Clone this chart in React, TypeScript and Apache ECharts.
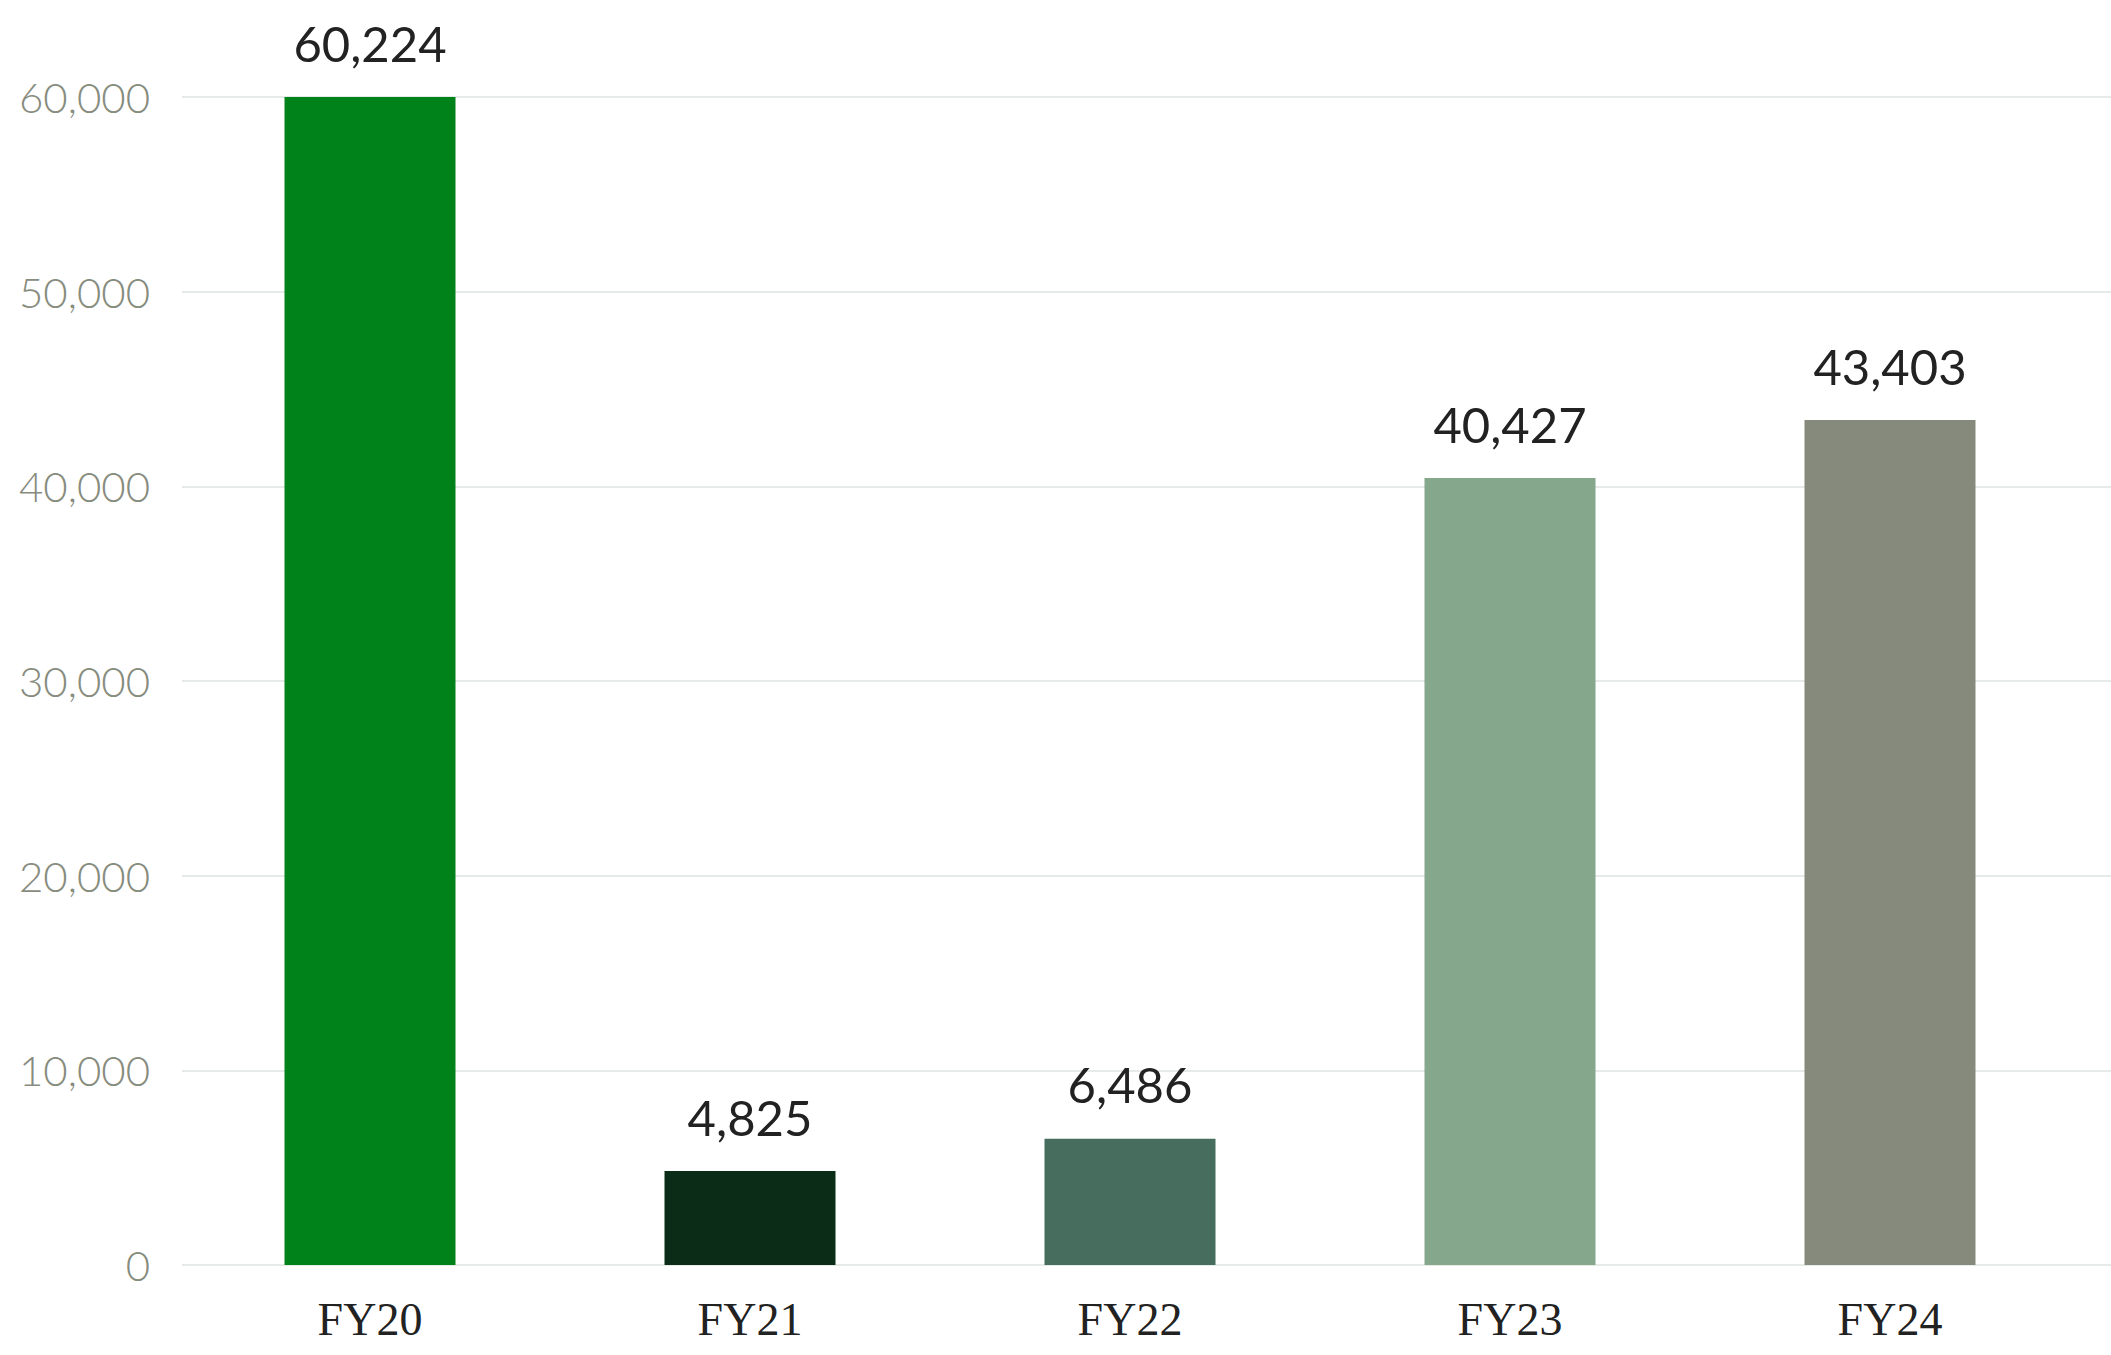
import React, { useEffect, useRef } from "react";
import * as echarts from "echarts";

const categories = ["FY20", "FY21", "FY22", "FY23", "FY24"];
const values = [60224, 4825, 6486, 40427, 43403];
const barColors = ["#00821a", "#0b2c16", "#466d5d", "#85a88c", "#868a7d"];
const yTicks = { min: 0, max: 60000, interval: 10000 };

const fmt = (v: number) => v.toLocaleString("en-US");

export default function App() {
  const ref = useRef<HTMLDivElement>(null);
  useEffect(() => {
    document.body.style.margin = "0";
    const chart = echarts.init(ref.current!, null, { renderer: "svg" });
    chart.setOption({
      animation: false,
      backgroundColor: "#ffffff",
      grid: [
        { left: 180, right: 31, top: 97, bottom: 90 },
        { left: 182, right: 0, top: 97, bottom: 90 },
      ],
      xAxis: [
        {
          type: "category",
          gridIndex: 0,
          data: categories,
          axisLine: { show: false },
          axisTick: { show: false },
          axisLabel: {
            margin: 31,
            fontFamily: "Liberation Serif",
            fontSize: 46,
            color: "#222222",
          },
        },
        {
          type: "category",
          gridIndex: 1,
          data: categories,
          show: false,
        },
      ],
      yAxis: [
        {
          type: "value",
          gridIndex: 0,
          ...yTicks,
          splitLine: { show: false },
          axisLine: { show: false },
          axisTick: { show: false },
          axisLabel: {
            margin: 30,
            fontFamily: "Lato",
            fontWeight: 300,
            fontSize: 42,
            color: "#878c7e",
            formatter: (v: number) => fmt(v),
          },
        },
        {
          type: "value",
          gridIndex: 1,
          ...yTicks,
          axisLine: { show: false },
          axisTick: { show: false },
          axisLabel: { show: false },
          splitLine: { show: true, lineStyle: { color: "#dfe4df", width: 1.5 } },
        },
      ],
      series: [
        {
          type: "bar",
          xAxisIndex: 0,
          yAxisIndex: 0,
          z: 5,
          barWidth: 171,
          data: values.map((v, i) => ({ value: v, itemStyle: { color: barColors[i] } })),
          label: {
            show: true,
            position: "top",
            distance: 30,
            fontFamily: "Lato",
            fontSize: 49,
            color: "#222222",
            formatter: (p: any) => fmt(p.value),
          },
        },
      ],
    });
    return () => chart.dispose();
  }, []);
  return <div ref={ref} style={{ width: 2111, height: 1355 }} />;
}
